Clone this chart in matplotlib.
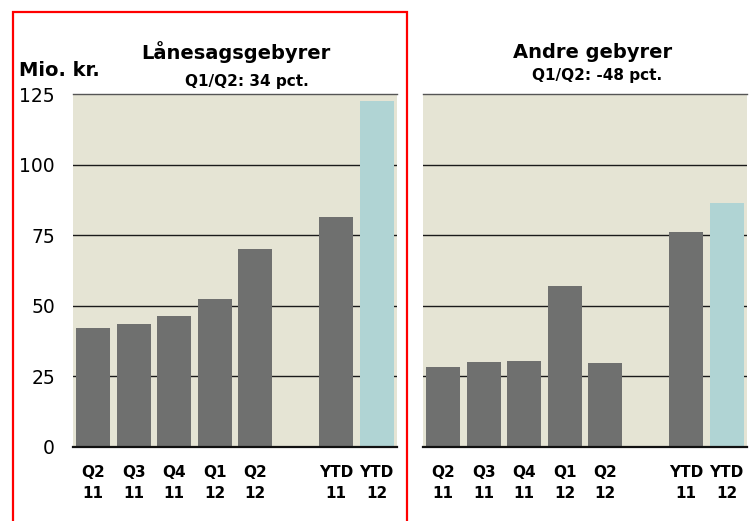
import matplotlib.pyplot as plt
from matplotlib.patches import Rectangle

# categories (position 5 is an empty slot between quarters and YTD)
labels = ['Q2\n11', 'Q3\n11', 'Q4\n11', 'Q1\n12', 'Q2\n12', 'YTD\n11', 'YTD\n12']
positions = [0, 1, 2, 3, 4, 6, 7]

laan_values = [42.2, 43.6, 46.4, 52.4, 70.2, 81.6, 122.8]
andre_values = [28.3, 30.1, 30.4, 57.0, 29.7, 76.2, 86.5]

titles = ['Lånesagsgebyrer', 'Andre gebyrer']
subtitles = ['Q1/Q2: 34 pct.', 'Q1/Q2: -48 pct.']
yticks = [0, 25, 50, 75, 100, 125]

BG = '#e5e4d4'
GREY = '#6f706f'
LIGHT = '#b0d4d4'

plt.rcParams['font.family'] = ['DejaVu Sans']

fig = plt.figure(figsize=(7.51, 5.21), dpi=100)
ax1 = fig.add_axes([0.0972, 0.1426, 0.4314, 0.6764])
ax2 = fig.add_axes([0.5632, 0.1426, 0.4314, 0.6764])


def draw_panel(ax, values, title, subtitle, title_x, title_y, sub_x, sub_y, show_y):
    colors = [GREY] * (len(values) - 1) + [LIGHT]
    ax.set_facecolor(BG)
    ax.bar(positions, values, width=0.84, color=colors, zorder=2)
    ax.set_xlim(-0.5, 7.5)
    ax.set_ylim(0, 125)

    # horizontal grid lines
    for v in yticks[1:-1]:
        ax.axhline(v, color='#1a1a1a', lw=1.0, zorder=1)

    for s in ['left', 'right']:
        ax.spines[s].set_visible(False)
    ax.spines['top'].set_color('#555555')
    ax.spines['top'].set_linewidth(1.0)
    ax.spines['bottom'].set_color('#111111')
    ax.spines['bottom'].set_linewidth(1.6)
    ax.spines['bottom'].set_zorder(3)

    ax.set_xticks(positions)
    ax.set_xticklabels(labels, fontsize=11, fontweight='bold', linespacing=1.55)
    ax.tick_params(axis='x', length=0, pad=13)

    ax.set_yticks(yticks)
    if show_y:
        ax.set_yticklabels([str(v) for v in yticks], fontsize=13.5)
        ax.tick_params(axis='y', length=0, pad=13)
    else:
        ax.tick_params(axis='y', length=0, labelleft=False)

    ax.text(title_x, title_y, title, transform=ax.transAxes, ha='center',
            va='baseline', fontsize=14, fontweight='bold')
    ax.text(sub_x, sub_y, subtitle, transform=ax.transAxes, ha='center',
            va='baseline', fontsize=11, fontweight='bold')


draw_panel(ax1, laan_values, titles[0], subtitles[0], 0.503, 1.099, 0.537, 1.024, True)
draw_panel(ax2, andre_values, titles[1], subtitles[1], 0.522, 1.102, 0.537, 1.040, False)

fig.text(19 / 751, 1 - 76 / 521, 'Mio. kr.', ha='left', va='baseline',
         fontsize=14, fontweight='bold')

# red frame around the first panel
fig.patches.append(Rectangle((13 / 751, -0.05), 394 / 751, 1 - 12 / 521 + 0.05,
                             transform=fig.transFigure, fill=False,
                             edgecolor='#ff0000', lw=1.6, clip_on=False))

fig.savefig('out.png', dpi=100)
